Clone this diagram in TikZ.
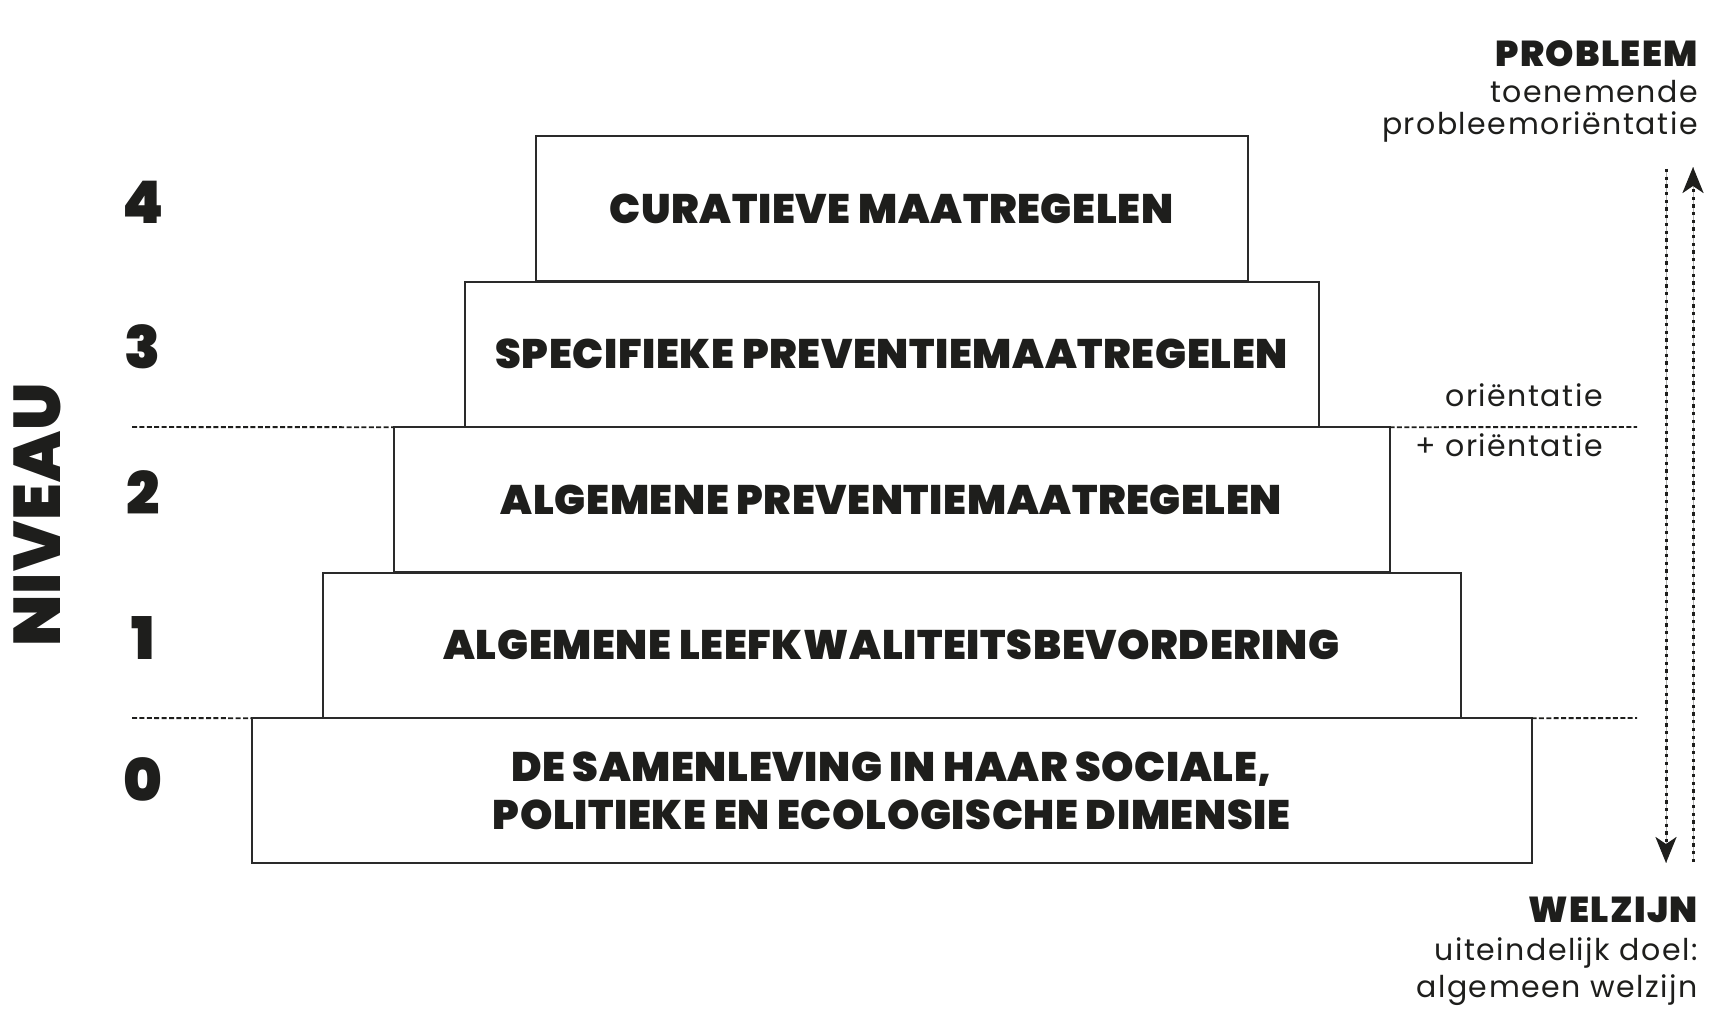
\documentclass[tikz,border=0pt]{standalone}
\usepackage{fontspec}
\setmainfont{Poppins}[LetterSpace=5]
\newfontfamily\pyrheavy{Poppins Black}[LetterSpace=1.5]
\newfontfamily\pyrheavywide{Poppins Black}[LetterSpace=3.5]
\usetikzlibrary{arrows.meta}
\definecolor{ink}{HTML}{1E1E1C}
\definecolor{rule}{HTML}{2A2A2A}
\newcommand\pyrboxfont{\pyrheavy\fontsize{20.6}{24}\selectfont}
\newcommand\pyrnumfont{\pyrheavy\fontsize{29.4}{30}\selectfont}
\newcommand\pyraxisfont{\pyrheavy\fontsize{33}{34}\selectfont}
\newcommand\pyrheadfont{\pyrheavywide\fontsize{18}{18}\selectfont}
\newcommand\pyrtextfont{\fontsize{15}{16}\selectfont}
\begin{document}
\begin{tikzpicture}[x=0.5pt,y=-0.5pt,
  box/.style={draw=rule, line width=1pt, fill=white, inner sep=0pt, outer sep=0pt,
    minimum height=72.5pt, font=\pyrboxfont, text=ink, align=center},
  num/.style={font=\pyrnumfont, text=ink, inner sep=0pt},
  head/.style={font=\pyrheadfont, text=ink, inner sep=0pt, anchor=base east},
  txt/.style={font=\pyrtextfont, text=ink, inner sep=0pt, anchor=base east},
  hdot/.style={draw=ink, line width=0.95pt, dash pattern=on 2.5pt off 1.2pt},
  vdot/.style={draw=ink, line width=1.5pt, dash pattern=on 1.65pt off 2.2pt},
  thin/.style={draw=gray!60, line width=0.3pt},
  tip/.style={-{Stealth[length=13pt,width=10.5pt,inset=3.5pt]}}
]
\useasboundingbox (0,0) rectangle (1729,1026);

% dotted level lines
\coordinate (hl2L) at (132,427);
\coordinate (hl2R) at (1637,427);
\coordinate (hl0L) at (132,718);
\coordinate (hl0R) at (1637,718);

% boxes
\node[box, minimum width=640pt] (l0) at (891.5,790.75) {DE SAMENLEVING IN HAAR SOCIALE,\\POLITIEKE EN ECOLOGISCHE DIMENSIE};
\node[box, minimum width=569pt] (l1) at (891.5,645.25) {ALGEMENE LEEFKWALITEITSBEVORDERING};
\node[box, minimum width=498pt] (l2) at (891.5,499.75) {ALGEMENE PREVENTIEMAATREGELEN};
\node[box, minimum width=427pt] (l3) at (891.5,354.25) {SPECIFIEKE PREVENTIEMAATREGELEN};
\node[box, minimum width=356pt] (l4) at (891.5,208.75) {CURATIEVE MAATREGELEN};

\draw[hdot] (hl2L) -- (l2.north west);
\draw[hdot] (l2.north east) -- (hl2R);
\draw[hdot] (hl0L) -- (l0.north west);
\draw[hdot] (l0.north east) -- (hl0R);

% level numbers
\node[num] (n4) at (143,202) {4};
\node[num] (n3) at (143,347) {3};
\node[num] (n2) at (143,493) {2};
\node[num] (n1) at (143,638) {1};
\node[num] (n0) at (143,780) {0};

\node[font=\pyraxisfont, text=ink, inner sep=0pt, rotate=90] (niveau) at (37,515) {NIVEAU};

% right side texts
\node[head] (probleem) at (1698,67) {PROBLEEM};
\node[txt] (toen) at (1698,103) {toenemende};
\node[txt] (probor) at (1698,135) {probleemoriëntatie};

\node[txt] (orimin) at (1603,407) {oriëntatie};
\node[txt] (oriplus) at (1603,457) {+ oriëntatie};

\node[head] (welzijn) at (1698,922) {WELZIJN};
\node[txt] (doel) at (1698,960) {uiteindelijk doel:};
\node[txt] (algw) at (1698,997) {algemeen welzijn};

% arrows
\coordinate (dtop) at (1666,169);
\coordinate (dbot) at (1666,863);
\coordinate (utop) at (1693,167);
\coordinate (ubot) at (1693,862);
\draw[thin] (dtop) -- (dbot);
\draw[thin] (ubot) -- (utop);
\draw[vdot, tip] (dtop) -- (dbot);
\draw[vdot, tip] (ubot) -- (utop);
\end{tikzpicture}
\end{document}
